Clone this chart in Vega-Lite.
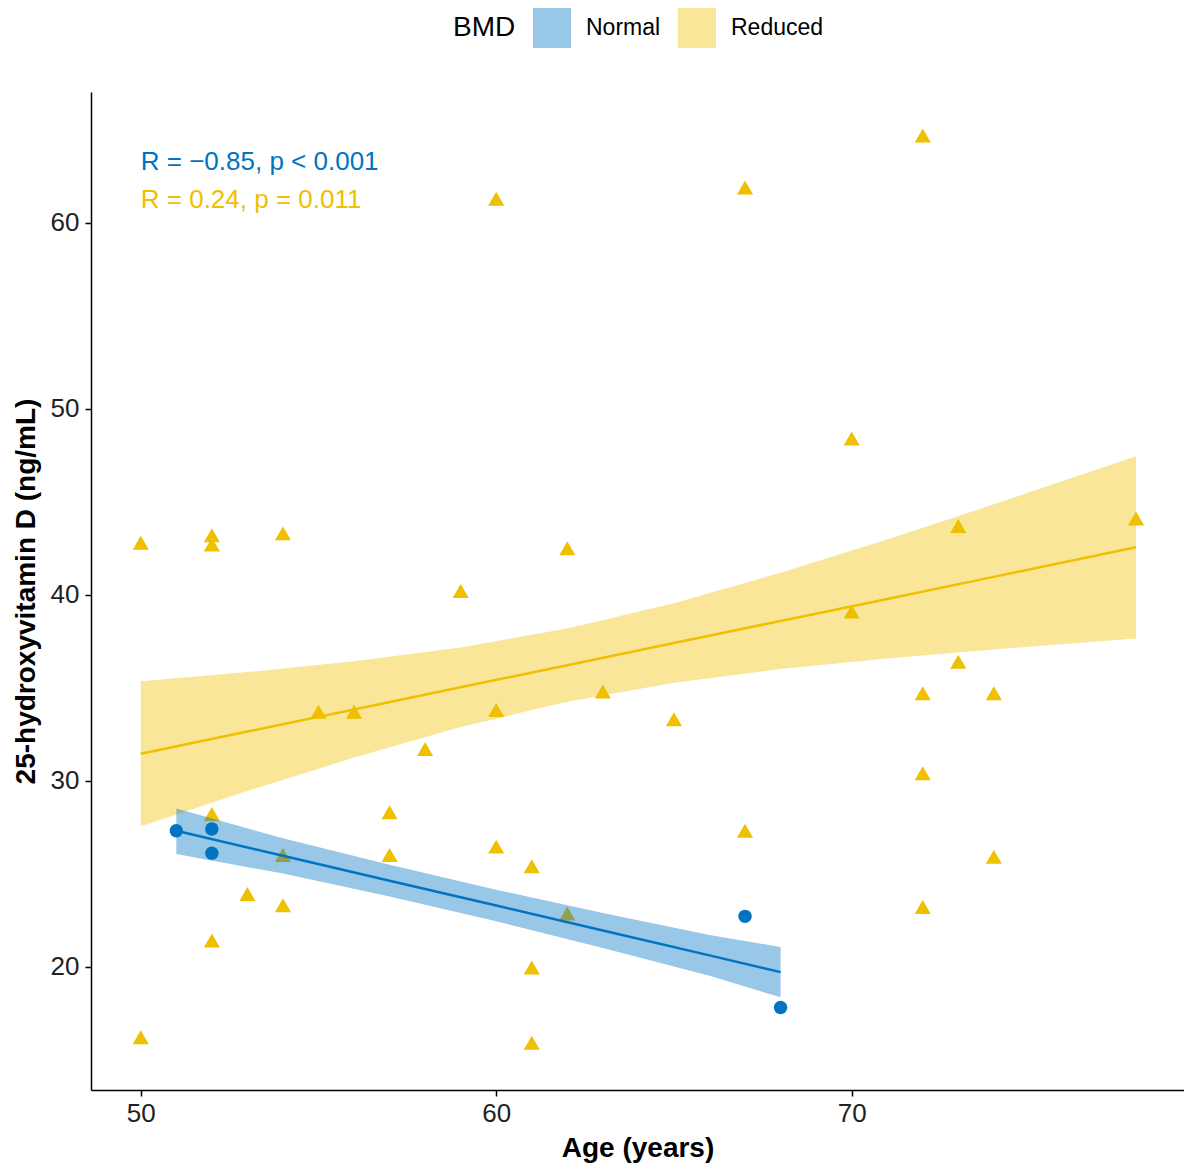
{
  "$schema": "https://vega.github.io/schema/vega-lite/v6.json",
  "autosize": {"type": "none"},
  "width": 1093,
  "height": 998,
  "padding": {"left": 91, "top": 92, "right": 0, "bottom": 81},
  "background": "white",
  "config": {
    "view": {"stroke": null},
    "font": "Liberation Sans",
    "axis": {
      "grid": false,
      "domainColor": "#000000",
      "domainWidth": 1.5,
      "tickColor": "#000000",
      "tickWidth": 1.5,
      "tickSize": 6,
      "labelFont": "Liberation Sans",
      "labelFontSize": 26,
      "labelColor": "#222222",
      "titleFont": "Liberation Sans",
      "titleFontSize": 28,
      "titleFontWeight": "bold",
      "titleColor": "#000000"
    }
  },
  "resolve": {"scale": {"color": "independent"}, "legend": {"color": "independent"}},
  "datasets": {
    "pts": [
      {"BMD": "Reduced", "Age": 50, "VitD": 42.8},
      {"BMD": "Reduced", "Age": 50, "VitD": 16.2},
      {"BMD": "Reduced", "Age": 52, "VitD": 43.2},
      {"BMD": "Reduced", "Age": 52, "VitD": 42.7},
      {"BMD": "Reduced", "Age": 52, "VitD": 28.2},
      {"BMD": "Reduced", "Age": 52, "VitD": 21.4},
      {"BMD": "Reduced", "Age": 53, "VitD": 23.9},
      {"BMD": "Reduced", "Age": 54, "VitD": 43.3},
      {"BMD": "Reduced", "Age": 54, "VitD": 26.0},
      {"BMD": "Reduced", "Age": 54, "VitD": 23.3},
      {"BMD": "Reduced", "Age": 55, "VitD": 33.7},
      {"BMD": "Reduced", "Age": 56, "VitD": 33.7},
      {"BMD": "Reduced", "Age": 57, "VitD": 28.3},
      {"BMD": "Reduced", "Age": 57, "VitD": 26.0},
      {"BMD": "Reduced", "Age": 58, "VitD": 31.7},
      {"BMD": "Reduced", "Age": 59, "VitD": 40.2},
      {"BMD": "Reduced", "Age": 60, "VitD": 61.3},
      {"BMD": "Reduced", "Age": 60, "VitD": 33.8},
      {"BMD": "Reduced", "Age": 60, "VitD": 26.45},
      {"BMD": "Reduced", "Age": 61, "VitD": 25.4},
      {"BMD": "Reduced", "Age": 61, "VitD": 19.95},
      {"BMD": "Reduced", "Age": 61, "VitD": 15.9},
      {"BMD": "Reduced", "Age": 62, "VitD": 42.5},
      {"BMD": "Reduced", "Age": 62, "VitD": 22.85},
      {"BMD": "Reduced", "Age": 63, "VitD": 34.8},
      {"BMD": "Reduced", "Age": 65, "VitD": 33.3},
      {"BMD": "Reduced", "Age": 67, "VitD": 61.9},
      {"BMD": "Reduced", "Age": 67, "VitD": 27.3},
      {"BMD": "Reduced", "Age": 70, "VitD": 48.4},
      {"BMD": "Reduced", "Age": 70, "VitD": 39.1},
      {"BMD": "Reduced", "Age": 72, "VitD": 64.7},
      {"BMD": "Reduced", "Age": 72, "VitD": 34.7},
      {"BMD": "Reduced", "Age": 72, "VitD": 30.4},
      {"BMD": "Reduced", "Age": 72, "VitD": 23.2},
      {"BMD": "Reduced", "Age": 73, "VitD": 43.7},
      {"BMD": "Reduced", "Age": 73, "VitD": 36.4},
      {"BMD": "Reduced", "Age": 74, "VitD": 34.7},
      {"BMD": "Reduced", "Age": 74, "VitD": 25.9},
      {"BMD": "Reduced", "Age": 78, "VitD": 44.1},
      {"BMD": "Normal", "Age": 51, "VitD": 27.3},
      {"BMD": "Normal", "Age": 52, "VitD": 27.4},
      {"BMD": "Normal", "Age": 52, "VitD": 26.1},
      {"BMD": "Normal", "Age": 67, "VitD": 22.7},
      {"BMD": "Normal", "Age": 68, "VitD": 17.8}
    ],
    "fit": [
      {"BMD": "Reduced", "Age": 50, "fit": 31.45, "lo": 27.55, "hi": 35.35},
      {"BMD": "Reduced", "Age": 53, "fit": 32.64, "lo": 29.44, "hi": 35.84},
      {"BMD": "Reduced", "Age": 56, "fit": 33.83, "lo": 31.24, "hi": 36.42},
      {"BMD": "Reduced", "Age": 59, "fit": 35.02, "lo": 32.88, "hi": 37.16},
      {"BMD": "Reduced", "Age": 62, "fit": 36.21, "lo": 34.24, "hi": 38.18},
      {"BMD": "Reduced", "Age": 65, "fit": 37.40, "lo": 35.26, "hi": 39.54},
      {"BMD": "Reduced", "Age": 68, "fit": 38.59, "lo": 36.0, "hi": 41.18},
      {"BMD": "Reduced", "Age": 71, "fit": 39.77, "lo": 36.57, "hi": 42.97},
      {"BMD": "Reduced", "Age": 74, "fit": 40.96, "lo": 37.06, "hi": 44.86},
      {"BMD": "Reduced", "Age": 78, "fit": 42.55, "lo": 37.65, "hi": 47.45},
      {"BMD": "Normal", "Age": 51, "fit": 27.3, "lo": 26.05, "hi": 28.5},
      {"BMD": "Normal", "Age": 54, "fit": 25.96, "lo": 25.0, "hi": 26.9},
      {"BMD": "Normal", "Age": 57, "fit": 24.62, "lo": 23.77, "hi": 25.47},
      {"BMD": "Normal", "Age": 60, "fit": 23.28, "lo": 22.43, "hi": 24.13},
      {"BMD": "Normal", "Age": 63, "fit": 21.94, "lo": 21.0, "hi": 22.88},
      {"BMD": "Normal", "Age": 66, "fit": 20.6, "lo": 19.5, "hi": 21.7},
      {"BMD": "Normal", "Age": 68, "fit": 19.7, "lo": 18.35, "hi": 21.05}
    ],
    "ann": [
      {"BMD": "Normal", "Age": 50, "VitD": 63.3, "label": "R = −0.85, p < 0.001"},
      {"BMD": "Reduced", "Age": 50, "VitD": 61.25, "label": "R = 0.24, p = 0.011"}
    ]
  },
  "layer": [
    {
      "data": {"name": "pts"},
      "mark": {"type": "point", "filled": true, "opacity": 1},
      "encoding": {
        "x": {
          "field": "Age", "type": "quantitative",
          "scale": {"domain": [48.6, 79.35], "nice": false, "zero": false},
          "axis": {"values": [50, 60, 70], "title": "Age (years)", "labelPadding": 4, "titlePadding": 8}
        },
        "y": {
          "field": "VitD", "type": "quantitative",
          "scale": {"domain": [13.36, 67.04], "nice": false, "zero": false},
          "axis": {"values": [20, 30, 40, 50, 60], "title": "25-hydroxyvitamin D (ng/mL)", "labelPadding": 6, "titlePadding": 10}
        },
        "color": {
          "field": "BMD", "type": "nominal",
          "scale": {"domain": ["Normal", "Reduced"], "range": ["#0073C2", "#EFC000"]},
          "legend": null
        },
        "shape": {
          "field": "BMD", "type": "nominal",
          "scale": {"domain": ["Normal", "Reduced"], "range": ["circle", "triangle-up"]},
          "legend": null
        },
        "size": {
          "field": "BMD", "type": "nominal",
          "scale": {"domain": ["Normal", "Reduced"], "range": [180, 260]},
          "legend": null
        }
      }
    },
    {
      "data": {"name": "fit"},
      "mark": {"type": "area", "opacity": 0.4},
      "encoding": {
        "x": {"field": "Age", "type": "quantitative"},
        "y": {"field": "lo", "type": "quantitative"},
        "y2": {"field": "hi"},
        "color": {
          "field": "BMD", "type": "nominal",
          "scale": {"domain": ["Normal", "Reduced"], "range": ["#0073C2", "#EFC000"]},
          "legend": {
            "orient": "none", "legendX": 362, "legendY": -84,
            "direction": "horizontal", "titleOrient": "left",
            "title": "BMD", "titleFontSize": 28, "titleFontWeight": "normal", "titleColor": "#000000", "titlePadding": 16,
            "labelFontSize": 23, "labelColor": "#000000", "labelOffset": 14,
            "symbolType": "M-0.95,-1H0.95V1H-0.95Z", "symbolSize": 1600, "symbolOpacity": 0.4, "symbolStrokeWidth": 0,
            "columnPadding": 16
          }
        },
        "detail": {"field": "BMD"},
        "order": {"field": "BMD", "sort": "descending"}
      }
    },
    {
      "data": {"name": "fit"},
      "mark": {"type": "line", "strokeWidth": 2.5},
      "encoding": {
        "x": {"field": "Age", "type": "quantitative"},
        "y": {"field": "fit", "type": "quantitative"},
        "color": {
          "field": "BMD", "type": "nominal",
          "scale": {"domain": ["Normal", "Reduced"], "range": ["#0073C2", "#EFC000"]},
          "legend": null
        },
        "detail": {"field": "BMD"}
      }
    },
    {
      "data": {"name": "ann"},
      "mark": {"type": "text", "align": "left", "baseline": "middle", "fontSize": 26, "font": "Liberation Sans"},
      "encoding": {
        "x": {"field": "Age", "type": "quantitative"},
        "y": {"field": "VitD", "type": "quantitative"},
        "text": {"field": "label"},
        "color": {
          "field": "BMD", "type": "nominal",
          "scale": {"domain": ["Normal", "Reduced"], "range": ["#0073C2", "#EFC000"]},
          "legend": null
        }
      }
    }
  ]
}
